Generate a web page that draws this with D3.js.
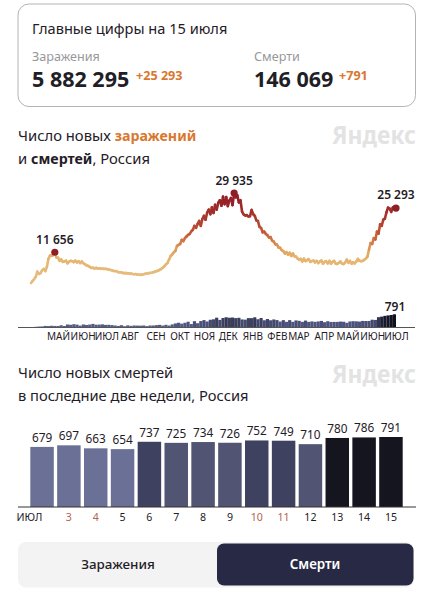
<!DOCTYPE html>
<html lang="ru">
<head>
<meta charset="utf-8">
<script src="https://d3js.org/d3.v7.min.js"></script>
<style>
  html, body { margin: 0; padding: 0; background: #fff; }
  svg { display: block; }
  text { font-family: "Noto Sans", sans-serif; }
</style>
</head>
<body>
<svg id="chart" width="433" height="600"></svg>
<script>
// new cases, one value every 2 days from 11 Apr 2020
const casesApr = [2170, 2770, 3390, 4070, 5670, 4950, 5230, 6060, 6500, 5840];
const casesMay = [7100, 9620, 10630, 10560, 10800, 11656, 10030, 9970, 9000, 9460, 8690, 8800, 9100, 8240, 8770, 9000];
const casesJun = [8860, 8630, 9080, 8500, 8880, 8300, 8830, 8250, 7970, 7600, 7430, 7110, 6800, 6890, 6590];
const casesJul = [6860, 6600, 6710, 6540, 6630, 6510, 6560, 6430, 6290, 6200, 6080, 5870, 5860, 5780, 5510];
const casesAug = [5460, 5430, 5230, 5210, 5200, 5130, 5100, 5060, 4950, 4870, 4920, 4720, 4750, 4680, 4740, 4870];
const casesSep = [4990, 5100, 5200, 5250, 5310, 5450, 5650, 5800, 5950, 6200, 6500, 6900, 7300, 7900, 8350];
const casesOct = [9400, 10500, 11000, 11650, 12100, 13600, 13900, 14200, 15500, 15100, 16000, 16500, 17000, 17300, 18100];
const casesNov = [18600, 19800, 19200, 20400, 21300, 19800, 21900, 22900, 21700, 23900, 24800, 23400, 25500, 23800, 26300];
const casesDec = [24800, 26900, 27700, 26000, 28800, 26500, 28700, 25900, 27600, 28400, 26200, 29935, 28600, 29200, 27000, 27700];
const casesJan = [24200, 23300, 23000, 23100, 22700, 22800, 24700, 23400, 22900, 21500, 21300, 19500, 19100, 17800, 18000];
const casesFeb = [17300, 16900, 16200, 16300, 15200, 14900, 14100, 14000, 13100, 13000, 12300, 12000, 11250, 11700];
const casesMar = [10900, 11500, 10500, 11300, 10400, 10300, 9700, 9300, 9600, 8800, 9700, 8900, 9200, 9500, 8700, 8900];
const casesApr21 = [9100, 8500, 9000, 8300, 8800, 9100, 8100, 8700, 8900, 8200, 9000, 8100, 8700, 9000, 8100];
const casesMay21 = [8050, 8400, 8800, 8100, 8000, 8500, 9400, 8400, 9000, 8100, 8600, 8200, 8800, 9600, 9000];
const casesJun21 = [8900, 9000, 9300, 9700, 10300, 12500, 14500, 14200, 16000, 15600, 18000, 17400, 20300, 19800, 21700];
const casesJul21 = [22000, 24000, 25400, 25100, 24100, 25500, 25700, 25293];

// new deaths, one value every 4 days from 11 Apr 2020
const deathsOverall = [
  18, 22, 42, 58, 66,
  96, 86, 104, 94, 92, 135, 92, 181,
  162, 197, 171, 113, 182, 153, 176, 216,
  168, 174, 188, 156, 162, 146, 120,
  95, 139, 77, 129, 98, 121, 115, 110,
  121, 86, 119, 122, 141, 160, 117, 160,
  117, 186, 244, 286, 229, 283, 346,
  207, 378, 256, 386, 442, 361, 463, 491,
  589, 456, 569, 613, 585, 599, 562, 583,
  482, 470, 561, 561, 611, 497, 568,
  432, 511, 432, 482, 444, 356, 441,
  341, 441, 341, 424, 398, 337, 415, 337,
  365, 339, 363, 395, 318, 377, 331, 335,
  336, 356, 345, 283, 363, 378, 370,
  356, 394, 389, 392, 466, 453, 619, 652,
  697, 725, 749, 791,
];

const monthLabels = ['МАЙ', 'ИЮН', 'ИЮЛ', 'АВГ', 'СЕН', 'ОКТ', 'НОЯ', 'ДЕК', 'ЯНВ', 'ФЕВ', 'МАР', 'АПР', 'МАЙ', 'ИЮН', 'ИЮЛ'];
const monthTicks = ['2020-05-15', '2020-06-15', '2020-07-15', '2020-08-13', '2020-09-15', '2020-10-15', '2020-11-15', '2020-12-15',
  '2021-01-15', '2021-02-15', '2021-03-14', '2021-04-15', '2021-05-15', '2021-06-15', '2021-07-15'];

const lastDays = [2, 3, 4, 5, 6, 7, 8, 9, 10, 11, 12, 13, 14, 15];
const lastDeaths = [679, 697, 663, 654, 737, 725, 734, 726, 752, 749, 710, 780, 786, 791];
const weekendDays = [3, 4, 10, 11];

const cases = [].concat(casesApr, casesMay, casesJun, casesJul, casesAug, casesSep, casesOct, casesNov,
  casesDec, casesJan, casesFeb, casesMar, casesApr21, casesMay21, casesJun21, casesJul21);

const parseDate = d3.utcParse('%Y-%m-%d');
const startDate = parseDate('2020-04-11');
const endDate = parseDate('2021-07-15');
const caseSeries = cases.map((v, i) => ({ date: d3.utcDay.offset(startDate, i * 2), value: v }));
const deathSeries = deathsOverall.map((v, i) => ({ date: d3.utcDay.offset(startDate, i * 4), value: v }));

const ink = '#1f2027';
const orange = '#d9772f';
const svg = d3.select('#chart');

const addText = (x, y, str, size, fill, weight = 400, anchor = 'start') => svg.append('text')
  .attr('x', x).attr('y', y).attr('font-size', size).attr('fill', fill)
  .attr('font-weight', weight).attr('text-anchor', anchor).text(str);

/* top card */
svg.append('rect').attr('x', 18).attr('y', 4).attr('width', 397.5).attr('height', 102.5).attr('rx', 11)
  .attr('fill', '#fff').attr('stroke', '#b4b4b4');
addText(32, 34, 'Главные цифры на 15 июля', 14.6, ink);
addText(32, 61, 'Заражения', 12.6, '#98989c');
addText(254, 61, 'Смерти', 12.6, '#98989c');
addText(32, 87, '5 882 295', 21.5, ink, 700);
addText(136, 80, '+25 293', 12.6, orange, 700);
addText(254, 87, '146 069', 21.5, ink, 700);
addText(339, 80, '+791', 12.6, orange, 700);

/* section titles */
const title1 = addText(18, 141, 'Число новых ', 14.8, ink);
title1.append('tspan').attr('fill', orange).attr('font-weight', 700).attr('font-size', 14.2).text('заражений');
const title2 = addText(18, 164, 'и ', 14.8, ink);
title2.append('tspan').attr('font-weight', 700).attr('font-size', 14.2).text('смертей');
title2.append('tspan').text(', Россия');
addText(332, 144, 'Яндекс', 25, '#e3e3e3', 700).attr('textLength', 84).attr('lengthAdjust', 'spacingAndGlyphs');
addText(18, 378, 'Число новых смертей', 14.7, ink);
addText(18, 401, 'в последние две недели, Россия', 14.7, ink);
addText(332, 383, 'Яндекс', 25, '#e3e3e3', 700).attr('textLength', 84).attr('lengthAdjust', 'spacingAndGlyphs');

/* overview chart */
const x = d3.scaleUtc().domain([startDate, endDate]).range([31, 396]);
const yCases = d3.scaleLinear().domain([0, 29935]).range([290, 193]);
const yDeaths = d3.scaleLinear().domain([0, 791]).range([327.5, 314.3]);

const caseColor = d3.scaleLinear()
  .domain([5000, 10000, 13000, 17000, 22000, 28000])
  .range(['#e6bb7c', '#e5b56f', '#dd9b58', '#c85f38', '#ab3a2d', '#962027'])
  .clamp(true);

const deathColor = d3.scaleLinear()
  .domain([0, 350, 600, 640, 660, 791])
  .range(['#5b6288', '#4d5480', '#3a3d5c', '#2a2c48', '#1a1b2e', '#10111c']);

const barWidth = x(d3.utcDay.offset(startDate, 4)) - x(startDate);
svg.append('g').selectAll('rect')
  .data(deathSeries)
  .join('rect')
  .attr('x', d => x(d.date) - barWidth)
  .attr('y', d => yDeaths(d.value))
  .attr('width', barWidth)
  .attr('height', d => yDeaths(0) - yDeaths(d.value))
  .attr('fill', d => deathColor(d.value));

const line = d3.line().x(d => x(d.date)).y(d => yCases(d.value));
svg.append('g').attr('fill', 'none').attr('stroke-width', 2.6).attr('stroke-linecap', 'round')
  .selectAll('path')
  .data(d3.pairs(caseSeries))
  .join('path')
  .attr('d', d => line(d))
  .attr('stroke', d => caseColor((d[0].value + d[1].value) / 2));

const callouts = [caseSeries[15], caseSeries.find(d => d.value === 29935), caseSeries[caseSeries.length - 1]];
svg.append('g').selectAll('circle')
  .data(callouts)
  .join('circle')
  .attr('cx', d => x(d.date))
  .attr('cy', d => yCases(d.value))
  .attr('r', 3.6)
  .attr('fill', '#8e1f26');
svg.append('g').selectAll('text')
  .data(callouts)
  .join('text')
  .attr('x', d => x(d.date))
  .attr('y', d => yCases(d.value) - 8)
  .attr('dy', (_d, i) => i === 2 ? -1 : 0)
  .attr('text-anchor', 'middle')
  .attr('font-size', 12)
  .attr('font-weight', 600)
  .attr('fill', ink)
  .text(d => d3.format(',')(d.value).replace(',', ' '));
addText(395, 311, deathsOverall[deathsOverall.length - 1], 12, ink, 600, 'middle');

const monthAxis = d3.axisBottom(x)
  .tickValues(monthTicks.map(parseDate))
  .tickSize(0)
  .tickPadding(5)
  .tickFormat((_d, i) => monthLabels[i]);
const monthGroup = svg.append('g').attr('transform', 'translate(0,328)').call(monthAxis);
monthGroup.select('.domain').remove();
monthGroup.selectAll('text').attr('font-size', 10).attr('fill', ink).style('font-family', '"Noto Sans", sans-serif');
svg.append('line').attr('x1', 18).attr('x2', 415).attr('y1', 327.5).attr('y2', 327.5).attr('stroke', '#555');

/* last two weeks */
const xDays = d3.scaleBand().domain(lastDays).range([28.7, 404.3]).paddingInner(0.125).paddingOuter(0.06);
const yLast = d3.scaleLinear().domain([0, 791]).range([507, 437]);
const lastColor = d3.scaleThreshold()
  .domain([700, 735, 770])
  .range(['#6b7097', '#515473', '#3e4160', '#14151f']);

svg.append('g').selectAll('rect')
  .data(lastDeaths)
  .join('rect')
  .attr('x', (_d, i) => xDays(lastDays[i]))
  .attr('y', d => yLast(d))
  .attr('width', xDays.bandwidth())
  .attr('height', d => yLast(0) - yLast(d))
  .attr('fill', d => lastColor(d));
svg.append('g').selectAll('text')
  .data(lastDeaths)
  .join('text')
  .attr('x', (_d, i) => xDays(lastDays[i]) + xDays.bandwidth() / 2)
  .attr('y', d => yLast(d) - 5)
  .attr('text-anchor', 'middle')
  .attr('font-size', 11.8)
  .attr('fill', ink)
  .text(d => d);

const dayAxis = d3.axisBottom(xDays)
  .tickSize(0)
  .tickPadding(6)
  .tickFormat(d => d === 2 ? 'ИЮЛ' : d);
const dayGroup = svg.append('g').attr('transform', 'translate(0,507)').call(dayAxis);
dayGroup.select('.domain').remove();
dayGroup.selectAll('text')
  .attr('font-size', 10.6)
  .attr('fill', d => weekendDays.includes(d) ? '#b5654f' : ink)
  .attr('dx', d => d === 2 ? -12.5 : 0)
  .style('font-family', '"Noto Sans", sans-serif');
svg.append('line').attr('x1', 18).attr('x2', 416).attr('y1', 507).attr('y2', 507).attr('stroke', '#333');

/* toggle */
svg.append('rect').attr('x', 18).attr('y', 542).attr('width', 396).attr('height', 45.5).attr('rx', 8).attr('fill', '#f3f3f3');
svg.append('rect').attr('x', 217).attr('y', 543.5).attr('width', 196.5).attr('height', 42).attr('rx', 7).attr('fill', '#282a45');
addText(118, 569, 'Заражения', 13.4, ink, 500, 'middle');
addText(315, 569, 'Смерти', 13.4, '#fff', 600, 'middle');
</script>
</body>
</html>
